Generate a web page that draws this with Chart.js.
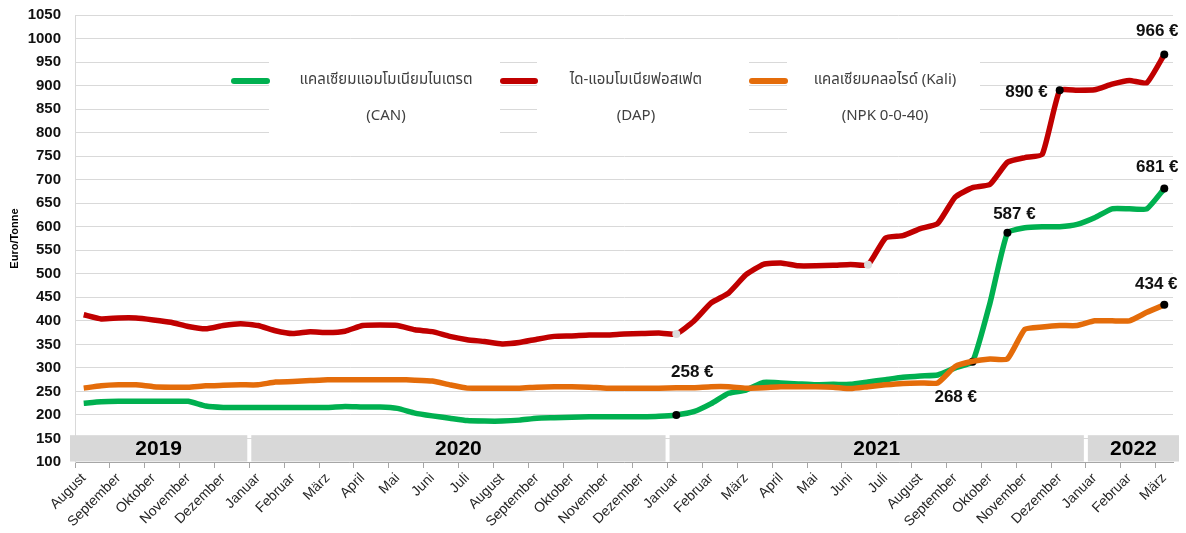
<!DOCTYPE html>
<html>
<head>
<meta charset="utf-8">
<script src="https://cdn.jsdelivr.net/npm/chart.js@4.4.1/dist/chart.umd.min.js"></script>
<style>
  html, body { margin: 0; padding: 0; background: #fff; }
  #wrap { width: 1186px; height: 533px; position: relative; }
</style>
</head>
<body>
<div id="wrap"><canvas id="grafik"></canvas></div>
<script>
// Monatsachse (ein Label pro Monat, Werte halbmonatlich)
const monate = ['August', 'September', 'Oktober', 'November', 'Dezember',
  'Januar', 'Februar', 'März', 'April', 'Mai', 'Juni', 'Juli', 'August', 'September', 'Oktober', 'November', 'Dezember',
  'Januar', 'Februar', 'März', 'April', 'Mai', 'Juni', 'Juli', 'August', 'September', 'Oktober', 'November', 'Dezember',
  'Januar', 'Februar', 'März'];
const jahre = ['2019', '2020', '2021', '2022'];
const jahresStartMonat = [0, 5, 17, 29];

const yTicks = { min: 100, max: 1050, step: 50 };

const namenZeile1 = ['แคลเซียมแอมโมเนียมไนเตรต', 'ได-แอมโมเนียฟอสเฟต', 'แคลเซียมคลอไรด์ (Kali)'];
const namenZeile2 = ['(CAN)', '(DAP)', '(NPK 0-0-40)'];

const werteCAN = [225, 228, 229, 229, 229, 229, 229, 219, 216, 216, 216, 216, 216, 216, 216, 218, 217,
  217, 214, 204, 198, 193, 188, 187, 187, 189, 193, 194, 195, 196, 196, 196, 196, 197,
  200, 207, 224, 246, 253, 269, 268, 266, 264, 265, 265, 270, 275, 280, 283, 285, 300, 313,
  438, 587, 598, 600, 600, 605, 619, 638, 638, 638, 681];
const werteDAP = [413, 404, 406, 406, 402, 397, 388, 383, 390, 394, 390, 379, 373, 377, 375, 378, 390,
  391, 390, 381, 377, 367, 360, 356, 351, 354, 361, 367, 368, 370, 370, 372, 373, 374,
  372, 399, 438, 459, 498, 520, 523, 517, 517, 518, 520, 519, 576, 581, 596, 607, 663, 683,
  690, 737, 747, 754, 890, 890, 891, 903, 911, 906, 966];
const werteKali = [257, 262, 264, 264, 260, 259, 259, 262, 263, 264, 264, 270, 271, 273, 275, 275, 275,
  275, 275, 274, 272, 264, 257, 257, 257, 257, 259, 260, 260, 259, 257, 257, 257, 257,
  258, 258, 260, 260, 257, 258, 260, 260, 260, 259, 256, 260, 264, 267, 268, 268, 303, 314,
  319, 319, 382, 387, 390, 390, 400, 400, 400, 418, 434];

// markierte Punkte (Index im Datenarray)
const punkteCAN = [34, 51, 53, 62];
const punkteDAP = [56, 62];
const punkteDAPhell = [34, 45];
const punkteKali = [62];

const beschriftungen = [
  { ds: 1, idx: 62, text: '966 €', dx: -7, dy: -23, align: 'center' },
  { ds: 1, idx: 56, text: '890 €', dx: -12, dy: 2, align: 'right' },
  { ds: 0, idx: 62, text: '681 €', dx: -7, dy: -21, align: 'center' },
  { ds: 0, idx: 53, text: '587 €', dx: 7, dy: -19, align: 'center' },
  { ds: 2, idx: 62, text: '434 €', dx: -8, dy: -21, align: 'center' },
  { ds: 2, idx: 49, text: '268 €', dx: 18, dy: 14, align: 'center' },
  { ds: 2, idx: 34, text: '258 €', dx: 16, dy: -15, align: 'center' }
];

const farben = ['#00b050', '#c00000', '#e46c0a'];

// 63 Kategorien: Monatsname, danach leerer Halbmonat
const kategorien = [];
monate.forEach((m, k) => {
  kategorien.push(m);
  if (k < monate.length - 1) kategorien.push('');
});

function punktRadius(liste, extra) {
  return ctx => (liste.includes(ctx.dataIndex) || (extra && extra.includes(ctx.dataIndex))) ? 4 : 0;
}

const jahresBand = {
  id: 'jahresBand',
  beforeDatasetsDraw(chart) {
    const { ctx, chartArea, scales } = chart;
    const x = scales.x, y = scales.y;
    const top = y.getPixelForValue(157);
    const bottom = y.getPixelForValue(100) - 0.5;
    const grenzen = jahresStartMonat.map(m => x.getPixelForValue(2 * m - 0.5));
    ctx.save();
    jahre.forEach((jahr, i) => {
      const x0 = i === 0 ? chartArea.left - 5 : grenzen[i] + 2;
      const x1 = i === jahre.length - 1 ? chartArea.right + 6 : grenzen[i + 1] - 2;
      ctx.fillStyle = '#d8d8d8';
      ctx.fillRect(x0, top, x1 - x0, bottom - top);
      ctx.fillStyle = '#000';
      ctx.font = 'bold 21px "Liberation Sans", Arial, sans-serif';
      ctx.textAlign = 'center';
      ctx.textBaseline = 'middle';
      ctx.fillText(jahr, (x0 + x1) / 2, (top + bottom) / 2 + 1);
    });

    // Legende als weisse Felder im Diagramm
    const felder = [[269, 500], [537, 749], [787, 980]];
    const marker = [[234, 267], [503, 535], [752, 785]];
    const mitte = [386, 636, 885];
    felder.forEach((f, i) => {
      ctx.fillStyle = '#fff';
      ctx.fillRect(f[0], 55, f[1] - f[0], 86);
      ctx.strokeStyle = farben[i];
      ctx.lineWidth = 6;
      ctx.lineCap = 'round';
      ctx.beginPath();
      ctx.moveTo(marker[i][0], 81);
      ctx.lineTo(marker[i][1], 81);
      ctx.stroke();
      ctx.fillStyle = '#404040';
      ctx.font = '15px Tahoma, "Leelawadee UI", "Noto Sans Thai", "Noto Sans", sans-serif';
      ctx.textAlign = 'center';
      ctx.textBaseline = 'middle';
      ctx.fillText(namenZeile1[i], mitte[i], 81);
      ctx.fillText(namenZeile2[i], mitte[i], 117);
    });
    ctx.restore();
  },
  afterDatasetsDraw(chart) {
    const ctx = chart.ctx;
    ctx.save();
    ctx.fillStyle = '#111';
    ctx.font = 'bold 17px "Liberation Sans", Arial, sans-serif';
    ctx.textBaseline = 'middle';
    beschriftungen.forEach(b => {
      const p = chart.getDatasetMeta(b.ds).data[b.idx];
      ctx.textAlign = b.align;
      ctx.fillText(b.text, p.x + b.dx, p.y + b.dy);
    });
    ctx.restore();
  }
};

Chart.defaults.font.family = '"Liberation Sans", Arial, sans-serif';

const grafik = new Chart(document.getElementById('grafik'), {
  type: 'line',
  data: {
    labels: kategorien,
    datasets: [
      {
        label: namenZeile1[0] + ' ' + namenZeile2[0],
        data: werteCAN,
        borderColor: farben[0],
        borderWidth: 5.5,
        tension: 0.15,
        order: 3,
        pointRadius: punktRadius(punkteCAN),
        pointBackgroundColor: '#000',
        pointBorderWidth: 0
      },
      {
        label: namenZeile1[1] + ' ' + namenZeile2[1],
        data: werteDAP,
        borderColor: farben[1],
        borderWidth: 5.5,
        tension: 0.15,
        order: 2,
        pointRadius: punktRadius(punkteDAP, punkteDAPhell),
        pointBackgroundColor: ctx => punkteDAPhell.includes(ctx.dataIndex) ? '#dcdcdc' : '#000',
        pointBorderWidth: 0
      },
      {
        label: namenZeile1[2] + ' ' + namenZeile2[2],
        data: werteKali,
        borderColor: farben[2],
        borderWidth: 5.5,
        tension: 0.15,
        order: 1,
        pointRadius: punktRadius(punkteKali),
        pointBackgroundColor: '#000',
        pointBorderWidth: 0
      }
    ]
  },
  options: {
    responsive: true,
    maintainAspectRatio: false,
    animation: false,
    layout: { padding: { left: 0, right: 13, top: 15, bottom: 0 } },
    scales: {
      x: {
        type: 'category',
        offset: true,
        afterFit: s => { s.height = 71; },
        grid: {
          offset: true,
          drawOnChartArea: false,
          tickLength: 6,
          color: ctx => ctx.index % 2 === 0 ? '#a6a6a6' : 'rgba(0,0,0,0)'
        },
        border: { color: '#a6a6a6' },
        ticks: {
          autoSkip: false,
          minRotation: 45,
          maxRotation: 45,
          padding: 2,
          color: '#262626',
          font: { size: 14 }
        }
      },
      y: {
        min: yTicks.min,
        max: yTicks.max,
        afterFit: s => { s.width = 75; s.paddingTop = 0; s.paddingBottom = 0; },
        grid: { color: '#d9d9d9', drawTicks: false },
        border: { color: '#d9d9d9' },
        ticks: {
          stepSize: yTicks.step,
          padding: 14,
          color: '#111',
          font: { size: 15, weight: 'bold' },
          callback: v => String(v)
        },
        title: {
          display: true,
          text: 'Euro/Tonne',
          color: '#000',
          font: { size: 11, weight: 'bold' },
          padding: { top: 8, bottom: 4 }
        }
      }
    },
    plugins: {
      legend: { display: false },
      tooltip: { enabled: false }
    }
  },
  plugins: [jahresBand]
});
</script>
</body>
</html>
